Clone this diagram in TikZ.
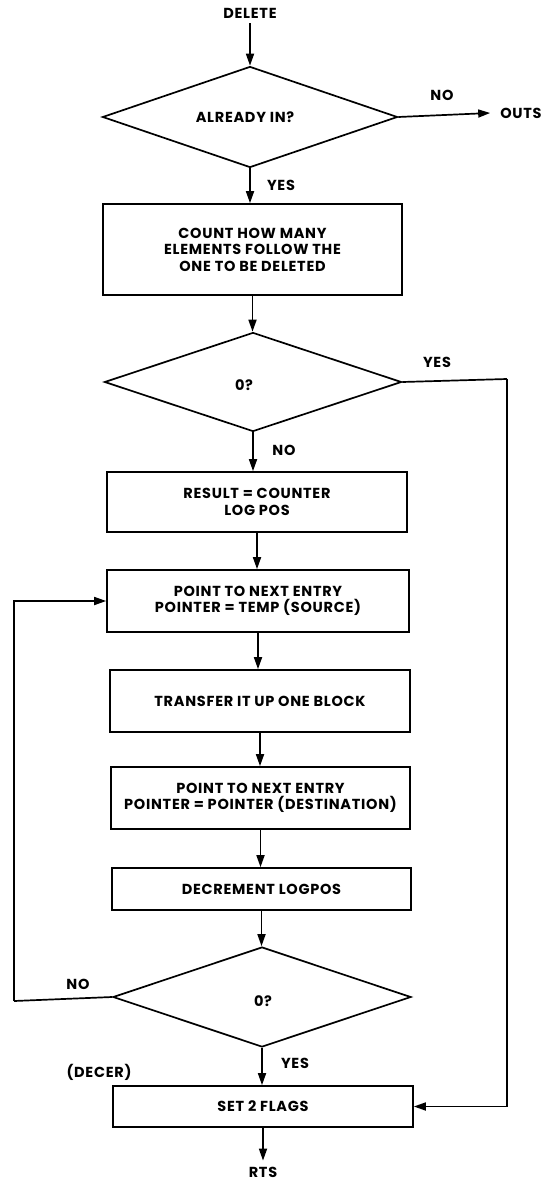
\documentclass[tikz,border=0pt]{standalone}
\usepackage{fontspec}
\setmainfont{Poppins}[LetterSpace=5]
\usetikzlibrary{arrows.meta,shapes.geometric}
\begin{document}
\begin{tikzpicture}[x=1pt,y=-1pt,
  every node/.style={font=\fontsize{14.5}{16.5}\selectfont\bfseries, inner sep=0pt},
  lbl/.style={font=\fontsize{14.5}{16.5}\selectfont\bfseries},
  box/.style={draw, line width=1.7pt, rectangle, align=center, minimum width=#1},
  dec/.style={draw, line width=1.7pt, diamond, align=center},
  conn/.style={line width=1.7pt, -{Triangle[length=12pt,width=8pt]}},
  line/.style={line width=1.7pt}
]
\useasboundingbox (0,0) rectangle (550,1182);

\node (start) at (250,13) {DELETE};
\node[dec, minimum width=295pt, minimum height=101pt] (d1) at (250,117) {};
\node at (245,117) {ALREADY IN?};
\node (outs) at (521,113) {OUTS};
\node[lbl] at (442,95) {NO};
\node[lbl] at (281,185) {YES};

\node[box=299pt, minimum height=91pt] (b1) at (252.5,249.5)
  {COUNT HOW MANY\\ELEMENTS FOLLOW THE\\ONE TO BE DELETED};

\node[dec, minimum width=297pt, minimum height=99pt] (d2) at (253,382) {};
\node at (244,385) {0?};
\node[lbl] at (437,362) {YES};
\node[lbl] at (284,450) {NO};

\node[box=300pt, minimum height=60pt] (b2) at (257,502) {RESULT = COUNTER\\LOG POS};
\node[box=302pt, minimum height=62pt] (b3) at (258,601) {POINT TO NEXT ENTRY\\POINTER = TEMP (SOURCE)};
\node[box=300pt, minimum height=62pt] (b4) at (260,701) {TRANSFER IT UP ONE BLOCK};
\node[box=299pt, minimum height=62pt] (b5) at (260.5,798) {POINT TO NEXT ENTRY\\POINTER = POINTER (DESTINATION)};
\node[box=299pt, minimum height=42pt] (b6) at (261.5,889) {DECREMENT LOGPOS};

\node[dec, minimum width=298pt, minimum height=100pt] (d3) at (262,997) {};
\node at (263,1001) {0?};
\node[lbl] at (78,984) {NO};
\node[lbl] at (295,1063) {YES};
\node[lbl] at (99,1072) {(DECER)};

\node[box=300pt, minimum height=41pt] (b7) at (263,1106.5) {SET 2 FLAGS};
\node (rts) at (263,1172) {RTS};

\coordinate (r1) at (507,379);
\coordinate (l1) at (14,1001);

\draw[conn] (start.south) ++(0,5) -- (d1.north);
\draw[conn] (d1.east) -- ([xshift=-10pt]outs.west);
\draw[conn] (d1.south) -- (d1.south |- b1.north);
\draw[conn] (b1.south) -- (b1.south |- d2.north);
\draw[conn] (d2.south) -- (d2.south |- b2.north);
\draw[conn] (b2.south) -- (b2.south |- b3.north);
\draw[conn] (b3.south) -- (b3.south |- b4.north);
\draw[conn] (b4.south) -- (b4.south |- b5.north);
\draw[conn] (b5.south) -- (b5.south |- b6.north);
\draw[conn] (b6.south) -- (b6.south |- d3.north);
\draw[conn] (d3.south) -- (d3.south |- b7.north);
\draw[conn] (b7.south) -- ([yshift=6pt]rts.north);
\draw[line] (d2.east) -- (r1);
\draw[conn] (r1) |- (b7.east);
\draw[line] (d3.west) -- (l1);
\draw[conn] (l1) |- (b3.west);
\end{tikzpicture}
\end{document}
